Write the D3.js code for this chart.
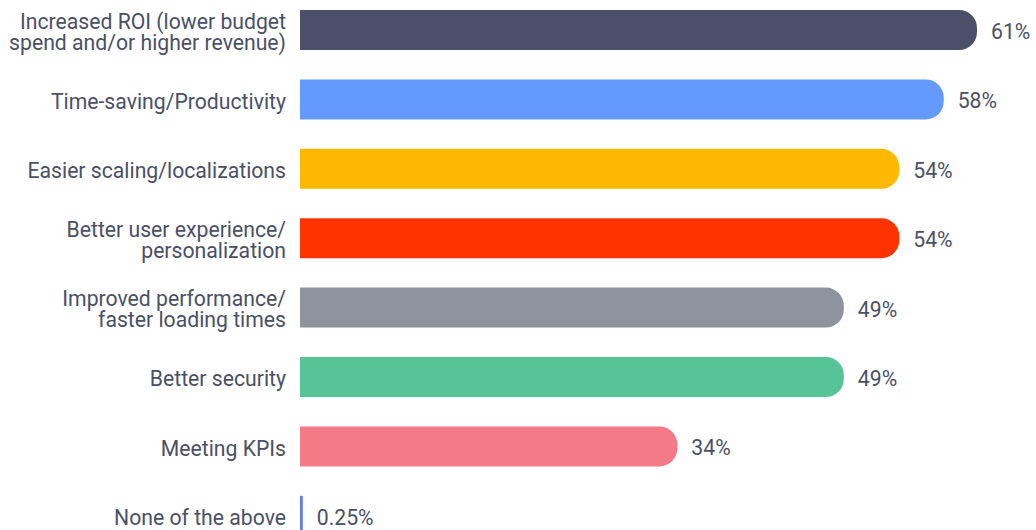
<!DOCTYPE html>
<html>
<head>
<meta charset="utf-8">
<script src="https://cdn.jsdelivr.net/npm/d3@7"></script>
<style>
  html, body { margin: 0; padding: 0; background: #ffffff; }
  svg { display: block; }
  text { font-family: Roboto, "Noto Sans", sans-serif; }
</style>
</head>
<body>
<svg id="chart" width="1036" height="530"></svg>
<script>
// Survey answers (multi-line labels split on "\n")
const categories = [
  "Increased ROI (lower budget\nspend and/or higher revenue)",
  "Time-saving/Productivity",
  "Easier scaling/localizations",
  "Better user experience/\npersonalization",
  "Improved performance/\nfaster loading times",
  "Better security",
  "Meeting KPIs",
  "None of the above"
];
const values = [61, 58, 54, 54, 49, 49, 34, 0.25];
const valueLabels = ["61%", "58%", "54%", "54%", "49%", "49%", "34%", "0.25%"];
const colors = ["#4a5068", "#6499fe", "#ffb800", "#ff3300", "#8e939e", "#57c498", "#f57a87", "#5c7cf0"];

const svg = d3.select("#chart");
const textColor = "#4a5066";
const fontSize = 21.2;

const x = d3.scaleLinear().domain([0, 61]).range([300, 977]);
const y = d3.scaleBand()
  .domain(categories)
  .range([10, 535.8])
  .paddingInner(0.4236)
  .paddingOuter(0);

// Bar with square left side and rounded right end
function barPath(x0, x1, y0, h) {
  const w = x1 - x0;
  const r = Math.min(18, w / 2, h / 2);
  return `M${x0},${y0}H${x1 - r}A${r},${r} 0 0 1 ${x1},${y0 + r}` +
         `V${y0 + h - r}A${r},${r} 0 0 1 ${x1 - r},${y0 + h}H${x0}Z`;
}

const rows = svg.append("g").selectAll("g")
  .data(categories.map((c, i) => ({ c, v: values[i], label: valueLabels[i], color: colors[i] })))
  .join("g");

rows.append("path")
  .attr("d", d => barPath(x(0), x(d.v), y(d.c), y.bandwidth()))
  .attr("fill", d => d.color);

// Category labels, right aligned left of the bars
rows.each(function (d) {
  const lines = d.c.split("\n");
  const cy = y(d.c) + y.bandwidth() / 2;
  const lh = 21;
  const t = d3.select(this).append("text")
    .attr("text-anchor", "end")
    .attr("font-size", fontSize)
    .attr("fill", textColor);
  lines.forEach((ln, i) => {
    t.append("tspan")
      .attr("x", 286)
      .attr("y", cy + (i - (lines.length - 1) / 2) * lh)
      .attr("dy", "0.44em")
      .text(ln);
  });
});

// Value labels at bar ends
rows.append("text")
  .attr("x", d => x(d.v) + 14)
  .attr("y", d => y(d.c) + y.bandwidth() / 2)
  .attr("dy", "0.42em")
  .attr("font-size", fontSize)
  .attr("fill", textColor)
  .text(d => d.label);
</script>
</body>
</html>
